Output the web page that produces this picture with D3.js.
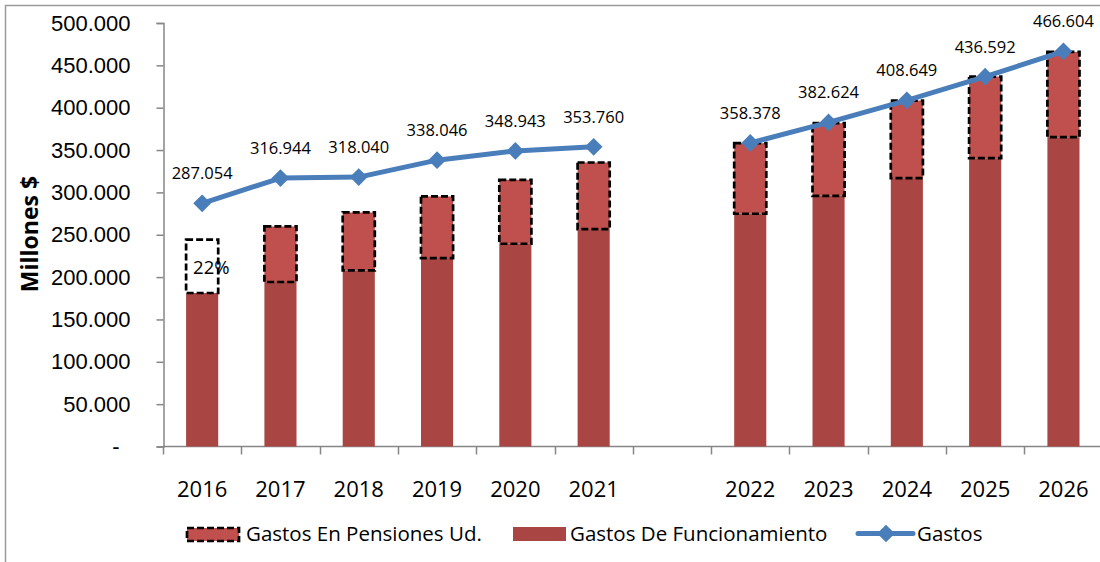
<!DOCTYPE html>
<html>
<head>
<meta charset="utf-8">
<script src="https://cdn.jsdelivr.net/npm/d3@7"></script>
<style>
  html, body { margin: 0; padding: 0; background: #fff; }
  svg { display: block; font-family: 'Open Sans', sans-serif; }
</style>
</head>
<body>
<svg id="chart" width="1100" height="562"></svg>
<script>
// category slots, the empty one is the gap between 2021 and 2022
const years = ['2016', '2017', '2018', '2019', '2020', '2021', '', '2022', '2023', '2024', '2025', '2026'];
const funcionamiento = [181200, 194200, 207900, 222500, 239400, 256700, null, 274800, 296000, 316900, 340400, 365200];
const pensiones = [63000, 65600, 68400, 72700, 75500, 78600, null, 83300, 85700, 91500, 96300, 100700];
const gastos = [287054, 316944, 318040, 338046, 348943, 353760, null, 358378, 382624, 408649, 436592, 466604];
const pensionPct = ['22%', '', '', '', '', '', '', '', '', '', '', ''];
const yTicks = [0, 50000, 100000, 150000, 200000, 250000, 300000, 350000, 400000, 450000, 500000];
const legendLabels = ['Gastos En Pensiones Ud.', 'Gastos De Funcionamiento', 'Gastos'];

const colors = {
  funcionamiento: '#a94644',
  pensiones: '#c0504d',
  gastos: '#4a7ebb',
  axis: '#868686'
};

const es = d3.formatLocale({decimal: ',', thousands: '.', grouping: [3], currency: ['$', '']});
const fmt = es.format(',.0f');

const svg = d3.select('#chart');

// outer frame (top and left edges are visible only)
svg.append('path')
  .attr('d', 'M5.5,562V5.5H1100')
  .attr('fill', 'none')
  .attr('stroke', '#9a9a9a')
  .attr('stroke-width', 1.5);

const x = d3.scaleBand()
  .domain(d3.range(years.length))
  .range([163, 163 + 12 * 78.3])
  .paddingInner(0.59)
  .paddingOuter(0.295);

const y = d3.scaleLinear()
  .domain([0, 500000])
  .range([446.5, 23]);

// y axis
const yAxis = d3.axisLeft(y)
  .tickValues(yTicks)
  .tickSize(7)
  .tickPadding(26)
  .tickFormat(d => d === 0 ? '-' : fmt(d));

const gy = svg.append('g')
  .attr('transform', 'translate(163.5,0)')
  .call(yAxis);
gy.select('.domain').attr('stroke', colors.axis).attr('stroke-width', 1.5);
gy.selectAll('.tick line').attr('stroke', colors.axis).attr('stroke-width', 1.5);
gy.selectAll('.tick text')
  .attr('fill', '#000')
  .style('font-size', '22px')
  .attr('dx', d => d === 0 ? -11 : 0);

// x axis: ticks sit on the slot boundaries
const gx = svg.append('g').attr('transform', 'translate(0,446.5)');
gx.append('line')
  .attr('x1', 163).attr('x2', 1100)
  .attr('stroke', colors.axis).attr('stroke-width', 1.5);
gx.selectAll('.tick-b')
  .data(d3.range(years.length))
  .join('line')
  .attr('class', 'tick-b')
  .attr('x1', i => Math.round(x(i) - x.step() * x.paddingInner() / 2) + 0.5)
  .attr('x2', i => Math.round(x(i) - x.step() * x.paddingInner() / 2) + 0.5)
  .attr('y1', 0).attr('y2', 8)
  .attr('stroke', colors.axis).attr('stroke-width', 1.5);
gx.selectAll('.year')
  .data(years)
  .join('text')
  .attr('class', 'year')
  .attr('x', (d, i) => x(i) + x.bandwidth() / 2)
  .attr('y', 50)
  .attr('text-anchor', 'middle')
  .style('font-size', '22px')
  .text(d => d);

// axis title
svg.append('text')
  .attr('transform', 'translate(38,234) rotate(-90)')
  .attr('text-anchor', 'middle')
  .style('font-size', '23px')
  .style('font-weight', 'bold')
  .text('Millones $');

const idx = d3.range(years.length).filter(i => funcionamiento[i] != null);

// funcionamiento bars
svg.append('g').selectAll('rect')
  .data(idx)
  .join('rect')
  .attr('x', i => x(i))
  .attr('width', x.bandwidth())
  .attr('y', i => y(funcionamiento[i]))
  .attr('height', i => y(0) - y(funcionamiento[i]))
  .attr('fill', colors.funcionamiento);

// pension segments stacked on top, dashed border
svg.append('g').selectAll('rect')
  .data(idx)
  .join('rect')
  .attr('x', i => x(i))
  .attr('width', x.bandwidth())
  .attr('y', i => y(funcionamiento[i] + pensiones[i]))
  .attr('height', i => y(funcionamiento[i]) - y(funcionamiento[i] + pensiones[i]))
  .attr('fill', i => i === 0 ? '#fff' : colors.pensiones)
  .attr('stroke', '#000')
  .attr('stroke-width', 2.7)
  .attr('stroke-dasharray', '7,3');

svg.append('g').selectAll('text')
  .data(idx.filter(i => pensionPct[i]))
  .join('text')
  .attr('x', i => x(i) + 7)
  .attr('y', i => y(funcionamiento[i] + pensiones[i] / 2) + 8)
  .style('font-size', '18.5px')
  .text(i => pensionPct[i]);

// gastos line with a break in the empty slot
const line = d3.line()
  .defined(d => d != null)
  .x((d, i) => x(i) + x.bandwidth() / 2)
  .y(d => y(d));

svg.append('path')
  .datum(gastos)
  .attr('d', line)
  .attr('fill', 'none')
  .attr('stroke', colors.gastos)
  .attr('stroke-width', 5)
  .attr('stroke-linejoin', 'round');

const diamond = d3.symbol().type(d3.symbolDiamond2).size(200);

svg.append('g').selectAll('path')
  .data(idx)
  .join('path')
  .attr('transform', i => `translate(${x(i) + x.bandwidth() / 2},${y(gastos[i])})`)
  .attr('d', diamond)
  .attr('fill', colors.gastos);

svg.append('g').selectAll('text')
  .data(idx)
  .join('text')
  .attr('x', i => x(i) + x.bandwidth() / 2)
  .attr('y', i => y(gastos[i]) - 24)
  .attr('text-anchor', 'middle')
  .style('font-size', '16.5px')
  .text(i => fmt(gastos[i]));

// legend
const legend = svg.append('g').style('font-size', '20.5px');
const lg = [187, 513, 858];

legend.append('rect')
  .attr('x', lg[0]).attr('y', 528).attr('width', 52).attr('height', 13)
  .attr('fill', colors.pensiones)
  .attr('stroke', '#000').attr('stroke-width', 2.7).attr('stroke-dasharray', '7,3');
legend.append('rect')
  .attr('x', lg[1]).attr('y', 527).attr('width', 53).attr('height', 14)
  .attr('fill', colors.funcionamiento);
legend.append('line')
  .attr('x1', lg[2]).attr('x2', lg[2] + 55).attr('y1', 533.5).attr('y2', 533.5)
  .attr('stroke', colors.gastos).attr('stroke-width', 5).attr('stroke-linecap', 'round');
legend.append('path')
  .attr('transform', `translate(${lg[2] + 28},533.5)`)
  .attr('d', diamond)
  .attr('fill', colors.gastos);

legend.selectAll('text')
  .data(legendLabels)
  .join('text')
  .attr('x', (d, i) => lg[i] + [59, 57, 59][i])
  .attr('y', 541)
  .text(d => d);
</script>
</body>
</html>
